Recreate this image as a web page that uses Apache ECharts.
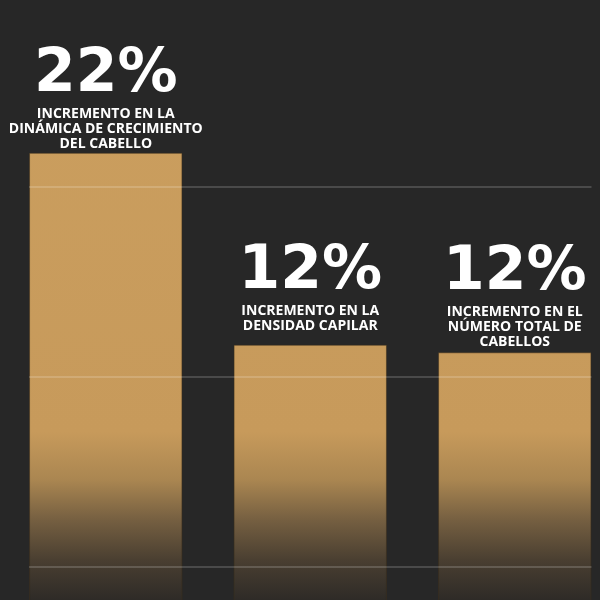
<!DOCTYPE html>
<html>
<head>
<meta charset="utf-8">
<script src="https://cdn.jsdelivr.net/npm/echarts@6/dist/echarts.min.js"></script>
<style>
html,body{margin:0;padding:0;background:#272727;}
#c{width:600px;height:600px;}
</style>
</head>
<body>
<div id="c"></div>
<script>
var categories = ['dinamica', 'densidad', 'numero'];
var barHeights = [3.18, 2.17, 2.13];
var percentLabels = ['22%', '12%', '12%'];
var captionLines = [
  ['INCREMENTO EN LA', 'DINÁMICA DE CRECIMIENTO', 'DEL CABELLO'],
  ['INCREMENTO EN LA', 'DENSIDAD CAPILAR'],
  ['INCREMENTO EN EL', 'NÚMERO TOTAL DE', 'CABELLOS']
];
var labelGaps = [1, 11, 3];
var yTicks = [0, 1, 2, 3, 4];

var chart = echarts.init(document.getElementById('c'));

var barFill = {
  type: 'linear', x: 0, y: 0, x2: 0, y2: 600, global: true,
  colorStops: [
    {offset: 0, color: '#cb9f5f'},
    {offset: 0.72, color: '#c79a5b'},
    {offset: 0.8, color: '#aa8651'},
    {offset: 0.867, color: '#755f41'},
    {offset: 0.933, color: '#4a3f31'},
    {offset: 1, color: '#2e2b27'}
  ]
};

var data = barHeights.map(function (v, i) {
  return {
    value: v,
    label: {distance: labelGaps[i]}
  };
});

var option = {
  backgroundColor: '#272727',
  animation: false,
  grid: [
    {left: 3.5, top: -3, width: 613.5, height: 760, outerBoundsMode: 'none', containLabel: false},
    {left: 29, top: -3, width: 562.5, height: 760, outerBoundsMode: 'none', containLabel: false, z: 5}
  ],
  xAxis: [
    {type: 'category', data: categories, gridIndex: 0, show: false},
    {type: 'value', gridIndex: 1, show: false, min: 0, max: 1}
  ],
  yAxis: [
    {type: 'value', gridIndex: 0, min: yTicks[0], max: yTicks[yTicks.length - 1], interval: 1, show: false},
    {type: 'value', gridIndex: 1, min: yTicks[0], max: yTicks[yTicks.length - 1], interval: 1, z: 5,
      axisLine: {show: false}, axisTick: {show: false}, axisLabel: {show: false},
      splitLine: {show: true, lineStyle: {color: 'rgba(255,255,255,0.22)', width: 1.5}}}
  ],
  series: [{
    type: 'bar',
    xAxisIndex: 0, yAxisIndex: 0,
    data: data,
    barCategoryGap: '25%',
    itemStyle: {color: barFill, borderColor: 'rgba(60,45,25,0.5)', borderWidth: 1},
    label: {
      show: true,
      position: 'top',
      align: 'center',
      formatter: function (p) {
        var i = p.dataIndex;
        return '{a|' + percentLabels[i] + '}\n' + captionLines[i].map(function (s) { return '{b|' + s + '}'; }).join('\n');
      },
      rich: {
        a: {fontFamily: 'DejaVu Sans', fontWeight: 'bold', fontSize: 60, lineHeight: 62, color: '#ffffff', align: 'center'},
        b: {fontFamily: 'Open Sans', fontWeight: 'bold', fontSize: 14, lineHeight: 15, color: '#ffffff', align: 'center'}
      }
    }
  }]
};
chart.setOption(option);
</script>
</body>
</html>
